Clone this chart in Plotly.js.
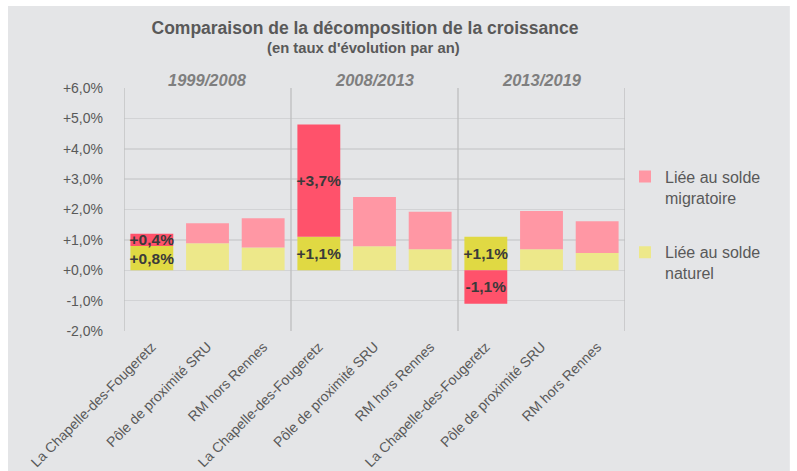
<!DOCTYPE html>
<html>
<head>
<meta charset="utf-8">
<script src="https://cdn.plot.ly/plotly-3.0.1.min.js"></script>
<style>
  html, body { margin: 0; padding: 0; background: #ffffff; }
  #chart { width: 797px; height: 471px; }
</style>
</head>
<body>
<div id="chart"></div>
<script>
// ---- Data ----
const periods = ["1999/2008", "2008/2013", "2013/2019"];
const tickLabels = [
  "La Chapelle-des-Fougeretz", "Pôle de proximité SRU", "RM hors Rennes",
  "La Chapelle-des-Fougeretz", "Pôle de proximité SRU", "RM hors Rennes",
  "La Chapelle-des-Fougeretz", "Pôle de proximité SRU", "RM hors Rennes"
];
const naturel    = [0.8, 0.89, 0.75, 1.1, 0.79, 0.69, 1.1, 0.69, 0.57];
const migratoire = [0.4, 0.66, 0.96, 3.7, 1.62, 1.24, -1.1, 1.26, 1.04];
const highlighted = "La Chapelle-des-Fougeretz";
const yTickVals = [-2, -1, 0, 1, 2, 3, 4, 5, 6];
const yTickText = ["-2,0%", "-1,0%", "+0,0%", "+1,0%", "+2,0%", "+3,0%", "+4,0%", "+5,0%", "+6,0%"];

// ---- Styles ----
const C = {
  migHi: "#FF526B", migLo: "#FF97A4",
  natHi: "#E0D943", natLo: "#EDE88A",
  bg: "#E4E5E7", grid: "#D2D3D5", sep: "#BDBEBF",
  text: "#595959", label: "#3A3A3A", period: "#7F7F7F"
};
const font = "'Liberation Sans', Arial, sans-serif";

const idx = tickLabels.map((_, i) => i);
const isHi = i => tickLabels[i] === highlighted;
// put a non-highlighted point first so the legend swatch shows the light colour
const order = idx.filter(i => !isHi(i)).concat(idx.filter(isHi));
const fmt = v => (v >= 0 ? "+" : "-") + Math.abs(v).toFixed(1).replace(".", ",") + "%";

function barTrace(values, name, hi, lo, group, rank) {
  return {
    type: "bar",
    name: name,
    legendgroup: group,
    legendrank: rank,
    x: order.map(i => i),
    y: order.map(i => values[i]),
    text: order.map(i => isHi(i) ? fmt(values[i]) : ""),
    textposition: "inside",
    insidetextanchor: "middle",
    constraintext: "none",
    textangle: 0,
    textfont: { family: font, size: 15.5, color: C.label, weight: "bold" },
    marker: { color: order.map(i => isHi(i) ? hi : lo), line: { width: 0 } },
    width: 0.77,
    hoverinfo: "skip"
  };
}

const data = [
  barTrace(naturel, "Liée au solde<br>naturel", C.natHi, C.natLo, "nat", 2),
  barTrace(migratoire, "Liée au solde<br>migratoire", C.migHi, C.migLo, "mig", 1)
];

const shapes = [
  // grey card background
  { type: "rect", xref: "paper", yref: "paper", x0: -0.2315, x1: 1.329, y0: -0.58, y1: 1.337,
    fillcolor: C.bg, line: { width: 0 }, layer: "below" }
];
[-0.5, 2.5, 5.5, 8.5].forEach(xv => shapes.push({
  type: "line", xref: "x", yref: "y", x0: xv, x1: xv, y0: yTickVals[0], y1: yTickVals[yTickVals.length - 1],
  line: { color: C.sep, width: 1.3 }, layer: "above"
}));

const annotations = periods.map((p, g) => ({
  text: "<b><i>" + p + "</i></b>",
  xref: "x", yref: "paper", x: g * 3 + 1, y: 1, yanchor: "middle", yshift: 8,
  showarrow: false,
  font: { family: font, size: 16.5, color: C.period }
}));
annotations.push({
  text: "<b>(en taux d'évolution par an)</b>",
  xref: "paper", yref: "paper", x: 0.479, y: (331 - 48) / 243, yanchor: "middle",
  showarrow: false,
  font: { family: font, size: 14.8, color: C.text }
});

const layout = {
  width: 797, height: 471,
  paper_bgcolor: "#ffffff",
  plot_bgcolor: "rgba(0,0,0,0)",
  margin: { l: 124, r: 172, t: 88, b: 140 },
  barmode: "relative",
  title: {
    text: "<b>Comparaison de la décomposition de la croissance</b>",
    font: { family: font, size: 17.5, color: C.text },
    xref: "paper", x: 0.481, xanchor: "center",
    yref: "container", y: 1 - 28 / 471, yanchor: "middle"
  },
  xaxis: {
    tickmode: "array", tickvals: idx, ticktext: tickLabels,
    tickangle: -45, range: [-0.5, 8.5],
    showgrid: false, zeroline: false, showline: false, ticks: "",
    ticklabelstandoff: 4,
    tickfont: { family: font, size: 14, color: C.text }
  },
  yaxis: {
    range: [-2, 6], tickmode: "array", tickvals: yTickVals, ticktext: yTickText,
    showgrid: true, gridcolor: C.grid, gridwidth: 1.5,
    zeroline: true, zerolinecolor: C.grid, zerolinewidth: 1.5,
    showline: false, ticks: "", ticklabelstandoff: 20,
    tickfont: { family: font, size: 14, color: C.text }
  },
  legend: {
    x: 1.0, xanchor: "left", xref: "paper", y: 0.705, yanchor: "top",
    traceorder: "grouped", tracegroupgap: 31,
    valign: "top", bgcolor: "rgba(0,0,0,0)",
    font: { family: font, size: 16, color: C.text }
  },
  shapes: shapes,
  annotations: annotations
};

Plotly.newPlot("chart", data, layout, { displayModeBar: false, staticPlot: true });
</script>
</body>
</html>
